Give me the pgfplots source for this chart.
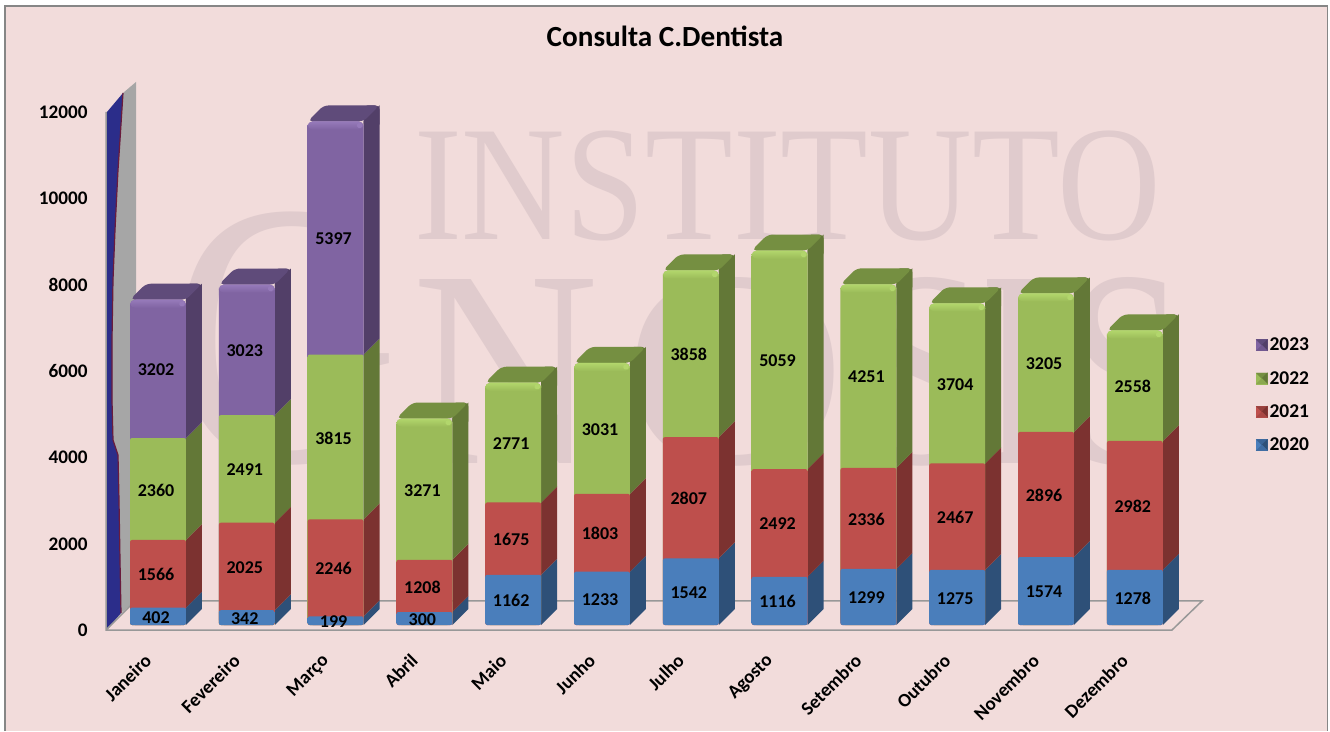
\documentclass[border=0pt]{standalone}
\usepackage{fontspec}
\setmainfont{Carlito}
\newfontfamily\wm{Liberation Serif}
\usepackage{pgfplots}
\usepackage{pgfplotstable}
\pgfplotsset{compat=1.18}
\definecolor{bgc}{HTML}{F2DCDB}
\definecolor{wmc}{HTML}{E0CBCD}
\definecolor{framec}{HTML}{868686}
\definecolor{floorc}{HTML}{989898}
\definecolor{wallb}{HTML}{2B2D8A}
\definecolor{wallg}{HTML}{A6A6A6}
\definecolor{wallr}{HTML}{6A1B3C}
\definecolor{bF}{HTML}{4A7EBB}\definecolor{bL}{HTML}{5289CA}\definecolor{bD}{HTML}{3F6CA2}\definecolor{bS}{HTML}{2E5078}\definecolor{bT}{HTML}{3A6496}\definecolor{bH}{HTML}{5F97D8}
\definecolor{rF}{HTML}{BE4F4C}\definecolor{rL}{HTML}{CC5553}\definecolor{rD}{HTML}{A84744}\definecolor{rS}{HTML}{7C3230}\definecolor{rT}{HTML}{96403D}\definecolor{rH}{HTML}{D96663}
\definecolor{gF}{HTML}{9BBB59}\definecolor{gL}{HTML}{A4C65E}\definecolor{gD}{HTML}{8BA84F}\definecolor{gS}{HTML}{637837}\definecolor{gT}{HTML}{758F41}\definecolor{gH}{HTML}{B2D66C}
\definecolor{pF}{HTML}{8064A2}\definecolor{pL}{HTML}{886BAB}\definecolor{pD}{HTML}{71588F}\definecolor{pS}{HTML}{523F68}\definecolor{pT}{HTML}{5F4B7A}\definecolor{pH}{HTML}{967ABA}
\newcommand\mkshade[1]{\pgfdeclarehorizontalshading{#1bar}{100bp}{color(0bp)=(#1D); color(4bp)=(#1F); color(80bp)=(#1F); color(90bp)=(#1L); color(97bp)=(#1F); color(100bp)=(#1D)}}
\mkshade{b}\mkshade{r}\mkshade{g}\mkshade{p}
\pgfplotstableread{
x y2020 y2021 y2022 y2023
0 402 1566 2360 3202
1 342 2025 2491 3023
2 199 2246 3815 5397
3 300 1208 3271 nan
4 1162 1675 2771 nan
5 1233 1803 3031 nan
6 1542 2807 3858 nan
7 1116 2492 5059 nan
8 1299 2336 4251 nan
9 1275 2467 3704 nan
10 1574 2896 3205 nan
11 1278 2982 2558 nan
}\data
\def\hw{0.315}\def\dd{0.18}\def\dy{370}
\newcommand\sideface[4]{%
  \pgfmathsetmacro\xa{#1+\hw}\pgfmathsetmacro\xb{\xa+\dd}%
  \pgfmathsetmacro\yl{#2+\dy}\pgfmathsetmacro\yh{#3+\dy}%
  \edef\tmp{\noexpand\addplot[forget plot,draw=none,fill=#4S] coordinates {(\xa,#2)(\xb,\yl)(\xb,\yh)(\xa,#3)} -- cycle;}\tmp}
\newcommand\topface[3]{%
  \pgfmathsetmacro\xl{#1-\hw}\pgfmathsetmacro\xr{#1+\hw}%
  \pgfmathsetmacro\xlb{\xl+\dd}\pgfmathsetmacro\xrb{\xr+\dd}%
  \pgfmathsetmacro\yb{#2+\dy}\pgfmathsetmacro\ybb{#2-150}%
  \edef\tmp{\noexpand\addplot[forget plot,draw=none,fill=#3S,rounded corners=4pt] coordinates {(\xr,\ybb)(\xr,\yb)(\xrb,\yb)(\xrb,\ybb)} -- cycle;}\tmp
  \edef\tmp{\noexpand\addplot[forget plot,draw=none,fill=#3T,rounded corners=5pt] coordinates {(\xl,#2)(\xlb,\yb)(\xrb,\yb)(\xr,#2)} -- cycle;}\tmp}
\newcommand\front[4]{%
  \pgfmathsetmacro\xl{#1-\hw}\pgfmathsetmacro\xr{#1+\hw}%
  \edef\tmp{\noexpand\addplot[forget plot,draw=none,shading=#3bar,rounded corners=#4] coordinates {(\xl,0)(\xl,#2)(\xr,#2)(\xr,0)} -- cycle;}\tmp}
\newcommand\bevel[3]{%
  \pgfmathsetmacro\xl{#1-\hw}\pgfmathsetmacro\xr{#1+\hw}%
  \pgfmathsetmacro\yb{#2-190}\pgfmathsetmacro\xq{#1+\hw-0.075}\pgfmathsetmacro\xs{#1+\hw-0.015}%
  \pgfmathsetmacro\yq{#2-40}\pgfmathsetmacro\yr{#2-150}%
  \edef\tmp{\noexpand\addplot[forget plot,draw=none,top color=#3H,bottom color=#3F,rounded corners=5pt] coordinates {(\xl,\yb)(\xl,#2)(\xr,#2)(\xr,\yb)} -- cycle;}\tmp
  \edef\tmp{\noexpand\addplot[forget plot,draw=none,fill=#3H,rounded corners=1.5pt] coordinates {(\xq,\yr)(\xq,\yq)(\xs,\yq)(\xs,\yr)} -- cycle;}\tmp}
\newcommand\legsq[1]{%
  \fill[#1F] (0pt,-5.5pt) rectangle (11pt,5.5pt);
  \fill[#1T] (0pt,5.5pt) -- (11pt,5.5pt) -- (5.5pt,0pt) -- cycle;
  \fill[#1S] (11pt,5.5pt) -- (11pt,-5.5pt) -- (5.5pt,0pt) -- cycle;
  \fill[#1D] (0pt,-5.5pt) -- (11pt,-5.5pt) -- (5.5pt,0pt) -- cycle;
}
\newcommand\wl[4]{\node[anchor=base west,inner sep=0pt,xscale=#2,text=wmc,font=\wm\fontsize{#3}{#3}\selectfont] at (#1) {#4};}
\pgfplotsset{
  lab/.style={forget plot,draw=none,mark=none,nodes near coords,
    point meta=explicit symbolic,
    nodes near coords style={anchor=center,inner sep=0pt,xshift=-2pt,yshift=-1pt,text=black,
      font=\fontsize{18}{18}\selectfont\bfseries}}
}
\begin{document}
\begin{tikzpicture}
\path[use as bounding box] (0,0) rectangle (1330pt,731pt);
\begin{scope}[x=1pt,y=-1pt,shift={(0pt,731pt)}]
  \fill[white] (0,0) rectangle (1330,731);
  \fill[bgc] (5,6) rectangle (1327.5,731);
  \draw[framec,line width=1.8pt] (5,731) -- (5,6) -- (1327.5,6) -- (1327.5,731);
  % watermark
  \wl{414,240}{0.875}{164}{INSTITUTO}
  \wl{170,462}{0.84}{377}{G}
  \wl{412,464}{0.92}{281}{N}
  \wl{623,464}{1.10}{281}{O}
  \wl{861,464}{0.80}{281}{S}
  \wl{980,464}{0.69}{281}{I}
  \wl{1066,464}{0.76}{281}{S}
  \node[anchor=center,font=\fontsize{29.2}{29.2}\selectfont\bfseries] at (665,36) {Consulta C.Dentista};
  % wall
  \fill[wallg] (123,93) -- (136,82) -- (136,600) -- (121,613) -- (120,560) -- (119,500) -- (118,455) -- (113,440) -- (112,400) -- (112,340) -- (113,280) -- (115,230) -- (118,170) -- (120,140) -- cycle;
  \fill[wallb] (107,112) -- (123,93) -- (120,140) -- (118,170) -- (115,230) -- (113,280) -- (112,340) -- (112,400) -- (113,440) -- (118,455) -- (119,500) -- (120,560) -- (121,613) -- (107,630) -- cycle;
  \draw[wallr,line width=1.2pt] (123,93) -- (120,140) -- (118,170) -- (115,230) -- (113,280) -- (112,340) -- (112,400) -- (113,440) -- (118,455) -- (119,500) -- (120,560) -- (121,613);
  \draw[floorc,line width=1.5pt] (106,112) -- (106,630) -- (1172,630) -- (1202,601) -- (135,601) -- (106,630);
\end{scope}
\begin{axis}[
  at={(106pt,101pt)},anchor=south west,
  x=88.8pt,y=0.0432pt,
  xmin=-0.5856,xmax=11.757,ymin=-115.74,ymax=12000,
  clip=false,
  axis line style={draw=none},
  major tick length=0pt,
  tick style={draw=none},
  xtick={0,...,11},
  xticklabels={Janeiro,Fevereiro,Março,Abril,Maio,Junho,Julho,Agosto,Setembro,Outubro,Novembro,Dezembro},
  xticklabel style={rotate=45,anchor=north east,inner sep=0pt,xshift=-26.4pt,yshift=-5.3pt,
    font=\fontsize{19}{19}\selectfont\bfseries},
  ytick={0,2000,...,12000},
  scaled y ticks=false,
  yticklabel style={font=\fontsize{19.2}{19.2}\selectfont\bfseries,inner sep=0pt,xshift=-18.3pt,yshift=-5.5pt,
    /pgf/number format/.cd,1000 sep={},assume math mode=true},
  legend style={at={(1.0492,0.562)},anchor=north west,draw=none,fill=none,inner sep=0pt,
    font=\fontsize{19.5}{19.5}\selectfont\bfseries,row sep=15pt,
    /tikz/every even column/.append style={column sep=7pt}},
  legend cell align=left,
]
\addlegendimage{legend image code/.code={\legsq{p}}}\addlegendentry{2023}
\addlegendimage{legend image code/.code={\legsq{g}}}\addlegendentry{2022}
\addlegendimage{legend image code/.code={\legsq{r}}}\addlegendentry{2021}
\addlegendimage{legend image code/.code={\legsq{b}}}\addlegendentry{2020}
% bars: depth faces, then the front faces from the tallest down
\pgfplotsforeachungrouped \i in {0,...,11}{%
  \pgfplotstablegetelem{\i}{y2020}\of\data \pgfmathsetmacro\ca{\pgfplotsretval}%
  \pgfplotstablegetelem{\i}{y2021}\of\data \pgfmathsetmacro\cb{\ca+\pgfplotsretval}%
  \pgfplotstablegetelem{\i}{y2022}\of\data \pgfmathsetmacro\cc{\cb+\pgfplotsretval}%
  \sideface{\i}{0}{\ca}{b}\sideface{\i}{\ca}{\cb}{r}\sideface{\i}{\cb}{\cc}{g}%
  \ifnum\i<3
    \pgfplotstablegetelem{\i}{y2023}\of\data \pgfmathsetmacro\cd{\cc+\pgfplotsretval}%
    \sideface{\i}{\cc}{\cd}{p}\topface{\i}{\cd}{p}%
    \front{\i}{\cd}{p}{5pt}\bevel{\i}{\cd}{p}%
    \front{\i}{\cc}{g}{2pt}%
  \else
    \topface{\i}{\cc}{g}%
    \front{\i}{\cc}{g}{5pt}\bevel{\i}{\cc}{g}%
  \fi
  \front{\i}{\cb}{r}{2pt}%
  \front{\i}{\ca}{b}{2pt}%
}
% labels
\addplot[lab] table[x=x,y expr=\thisrow{y2020}/2,meta=y2020] {\data};
\addplot[lab] table[x=x,y expr=\thisrow{y2020}+\thisrow{y2021}/2,meta=y2021] {\data};
\addplot[lab] table[x=x,y expr=\thisrow{y2020}+\thisrow{y2021}+\thisrow{y2022}/2,meta=y2022] {\data};
\addplot[lab] table[x=x,y expr=\thisrow{y2020}+\thisrow{y2021}+\thisrow{y2022}+\thisrow{y2023}/2,meta=y2023] {\data};
\end{axis}
\end{tikzpicture}
\end{document}
